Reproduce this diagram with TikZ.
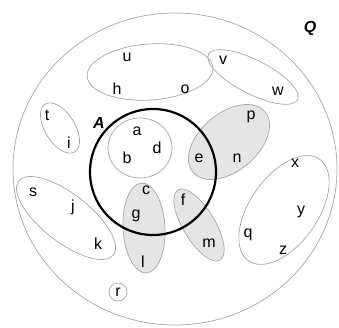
\documentclass[tikz,border=0pt]{standalone}
\usepackage{fontspec}
\setmainfont{Liberation Sans}
\tikzset{
  himp/.style={draw=gray!70, line width=0.7pt},
  arsir/.style={himp, fill=gray!20},
  elem/.style={font=\fontsize{16}{16}\selectfont, inner sep=0pt},
  namahimp/.style={font=\fontsize{16}{16}\selectfont\bfseries\itshape, inner sep=0pt}
}
\begin{document}
\begin{tikzpicture}[x=1pt,y=1pt]
    \useasboundingbox (0,0) rectangle (339,327);

    % Semesta Q
    \draw[himp] (175,158) ellipse [x radius=162, y radius=156];
    \node[namahimp] (Q) at (310,299) {Q};

    % Himpunan bagian
    \draw[himp] (150,255) ellipse [x radius=63, y radius=28, rotate=4];
    \draw[himp] (253,250) ellipse [x radius=50, y radius=17, rotate=-27];
    \draw[himp] (60,199) ellipse [x radius=28, y radius=15, rotate=-58];
    \draw[himp] (140,179) ellipse [x radius=32, y radius=30];
    \draw[himp] (66,109) ellipse [x radius=60, y radius=24, rotate=-38];
    \draw[himp] (284,117) ellipse [x radius=62, y radius=34, rotate=55];
    \draw[himp] (118,35) circle [radius=9];

    % Himpunan yang diarsir
    \draw[arsir] (229,185) ellipse [x radius=47, y radius=29, rotate=40];
    \draw[arsir] (144,99) ellipse [x radius=21, y radius=45, rotate=3];
    \draw[arsir] (199,102) ellipse [x radius=41, y radius=16, rotate=-59];

    % Himpunan A
    \draw[line width=2.2pt] (153,155) circle [radius=63];
    \node[namahimp] (A) at (99,204) {A};

    % Anggota
    \foreach \n/\x/\y in {u/127/270, h/117/238, o/185/238, v/223/267, w/278/236,
        p/251/210, t/47/212, i/69/184, a/137/196, b/127/169, d/157/179,
        e/199/169, n/237/169, x/295/164, s/33/135, j/73/120, c/146/137,
        f/183/127, y/301/115, g/136/111, q/248/92, k/98/83, m/209/84,
        z/283/77, l/143/65, r/118/35}
      \node[elem] (\n) at (\x,\y) {\n};
\end{tikzpicture}
\end{document}
